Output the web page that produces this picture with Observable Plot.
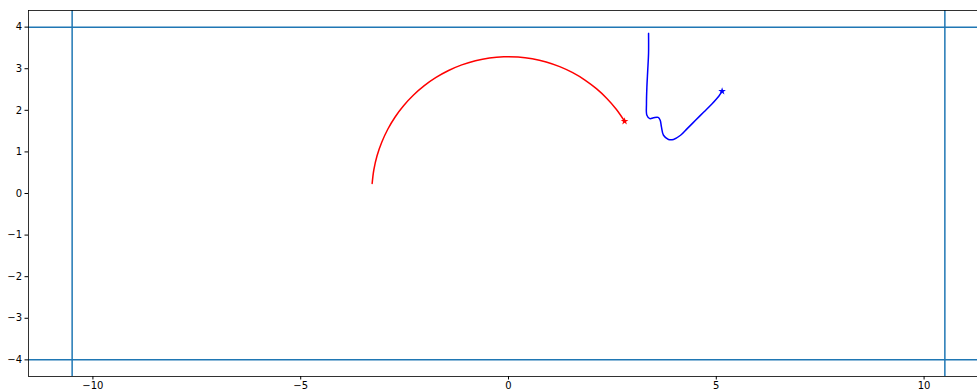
<!DOCTYPE html>
<html>
<head>
<meta charset="utf-8">
<script src="https://cdn.jsdelivr.net/npm/d3@7"></script>
<script src="https://cdn.jsdelivr.net/npm/@observablehq/plot@0.6"></script>
<style>
  html, body { margin: 0; padding: 0; background: #fff; overflow: hidden; }
  #chart svg { max-width: none !important; display: block; }
</style>
</head>
<body>
<div id="chart"></div>
<script>
// Red arc
const redX = [-3.281, -3.240, -3.163, -3.050, -2.905, -2.728, -2.520, -2.285, -2.026, -1.743, -1.442, -1.125, -0.796, -0.458, -0.115, 0.230, 0.571, 0.907, 1.232, 1.545, 1.840, 2.115, 2.367, 2.593, 2.793];
const redY = [0.241, 0.571, 0.907, 1.232, 1.545, 1.840, 2.115, 2.367, 2.593, 2.790, 2.957, 3.092, 3.192, 3.258, 3.288, 3.282, 3.240, 3.163, 3.050, 2.905, 2.728, 2.520, 2.285, 2.026, 1.739];

// Blue path
const blueX = [3.37, 3.37, 3.35, 3.33, 3.32, 3.33, 3.40, 3.49, 3.60, 3.65, 3.68, 3.73, 3.85, 3.97, 4.14, 4.30, 4.50, 4.70, 4.90, 5.06, 5.14];
const blueY = [3.85, 3.37, 2.96, 2.56, 2.16, 1.88, 1.80, 1.82, 1.83, 1.76, 1.60, 1.40, 1.30, 1.30, 1.40, 1.56, 1.76, 1.96, 2.16, 2.34, 2.46];

// Boundary lines
const vLines = [-10.5, 10.5];
const hLines = [-4, 4];

// Ticks
const xTicks = [-10, -5, 0, 5, 10];
const yTicks = [-4, -3, -2, -1, 0, 1, 2, 3, 4];

const red = redX.map((x, i) => ({x, y: redY[i]}));
const blue = blueX.map((x, i) => ({x, y: blueY[i]}));
const fmt = d => d < 0 ? "\u2212" + (-d) : String(d);

const chart = Plot.plot({
  width: 1000,
  height: 392,
  marginLeft: 28,
  marginTop: 10,
  marginBottom: 16,
  marginRight: 12,
  style: {fontFamily: "DejaVu Sans", fontSize: "10px", background: "white", color: "black"},
  x: {domain: [-11.55, 11.55], ticks: xTicks, tickFormat: fmt, label: null},
  y: {domain: [-4.4, 4.4], ticks: yTicks, tickFormat: fmt, label: null},
  marks: [
    Plot.ruleX(vLines, {stroke: "#1f77b4", strokeWidth: 1.5}),
    Plot.ruleY(hLines, {stroke: "#1f77b4", strokeWidth: 1.5}),
    Plot.line(red, {x: "x", y: "y", stroke: "#ff0000", strokeWidth: 1.5, curve: "catmull-rom"}),
    Plot.line(blue, {x: "x", y: "y", stroke: "#0000ff", strokeWidth: 1.5, curve: "catmull-rom"}),
    Plot.dot([red[red.length - 1]], {x: "x", y: "y", symbol: "star", r: 2.4, fill: "#ff0000", stroke: "none"}),
    Plot.dot([blue[blue.length - 1]], {x: "x", y: "y", symbol: "star", r: 2.4, fill: "#0000ff", stroke: "none"}),
    Plot.axisX({ticks: xTicks, tickFormat: fmt, tickSize: 3.5, tickPadding: 2, label: null}),
    Plot.axisY({ticks: yTicks, tickFormat: fmt, tickSize: 3.5, tickPadding: 3, label: null}),
    Plot.frame({stroke: "black", strokeWidth: 0.8, strokeOpacity: 1})
  ]
});
chart.style.maxWidth = "none";
document.getElementById("chart").appendChild(chart);
</script>
</body>
</html>
